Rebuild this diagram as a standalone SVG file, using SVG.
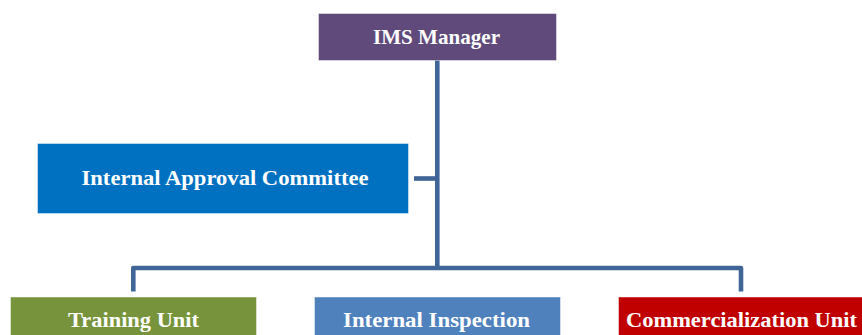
<svg xmlns="http://www.w3.org/2000/svg" width="862" height="335" viewBox="0 0 862 335">
<style>
.box{stroke:#ffffff;stroke-opacity:0.45;stroke-width:1}
.lbl{font-family:"Liberation Serif","Times New Roman",serif;font-weight:bold;font-size:21px;fill:#ffffff;text-anchor:middle}
.conn{fill:none;stroke:#3f6697;stroke-width:4.6;stroke-linejoin:round}
</style>
<rect width="862" height="335" fill="#ffffff"/>
<g id="connectors">
<path class="conn" d="M437.3,60 V268"/>
<path class="conn" d="M414,178.5 H437.3"/>
<path class="conn" d="M133.3,291.5 V268 H741 V291.5"/>
</g>
<g id="ims-manager">
<rect class="box" x="318.5" y="13.5" width="238" height="47" fill="#604a7b"/>
<text class="lbl" x="436.5" y="43.5" textLength="127" lengthAdjust="spacingAndGlyphs">IMS Manager</text>
</g>
<g id="internal-approval-committee">
<rect class="box" x="37.5" y="143.5" width="371" height="70" fill="#0070c0"/>
<text class="lbl" x="225" y="185" textLength="287" lengthAdjust="spacingAndGlyphs">Internal Approval Committee</text>
</g>
<g id="training-unit">
<rect class="box" x="10.5" y="297" width="246" height="45" fill="#77933c"/>
<text class="lbl" x="133.5" y="327" textLength="131" lengthAdjust="spacingAndGlyphs">Training Unit</text>
</g>
<g id="internal-inspection">
<rect class="box" x="314.5" y="297" width="246" height="45" fill="#4f81bd"/>
<text class="lbl" x="436.5" y="327" textLength="187" lengthAdjust="spacingAndGlyphs">Internal Inspection</text>
</g>
<g id="commercialization-unit">
<rect class="box" x="618.5" y="297" width="250" height="45" fill="#c00000"/>
<text class="lbl" x="741.5" y="327" textLength="231" lengthAdjust="spacingAndGlyphs">Commercialization Unit</text>
</g>
</svg>
